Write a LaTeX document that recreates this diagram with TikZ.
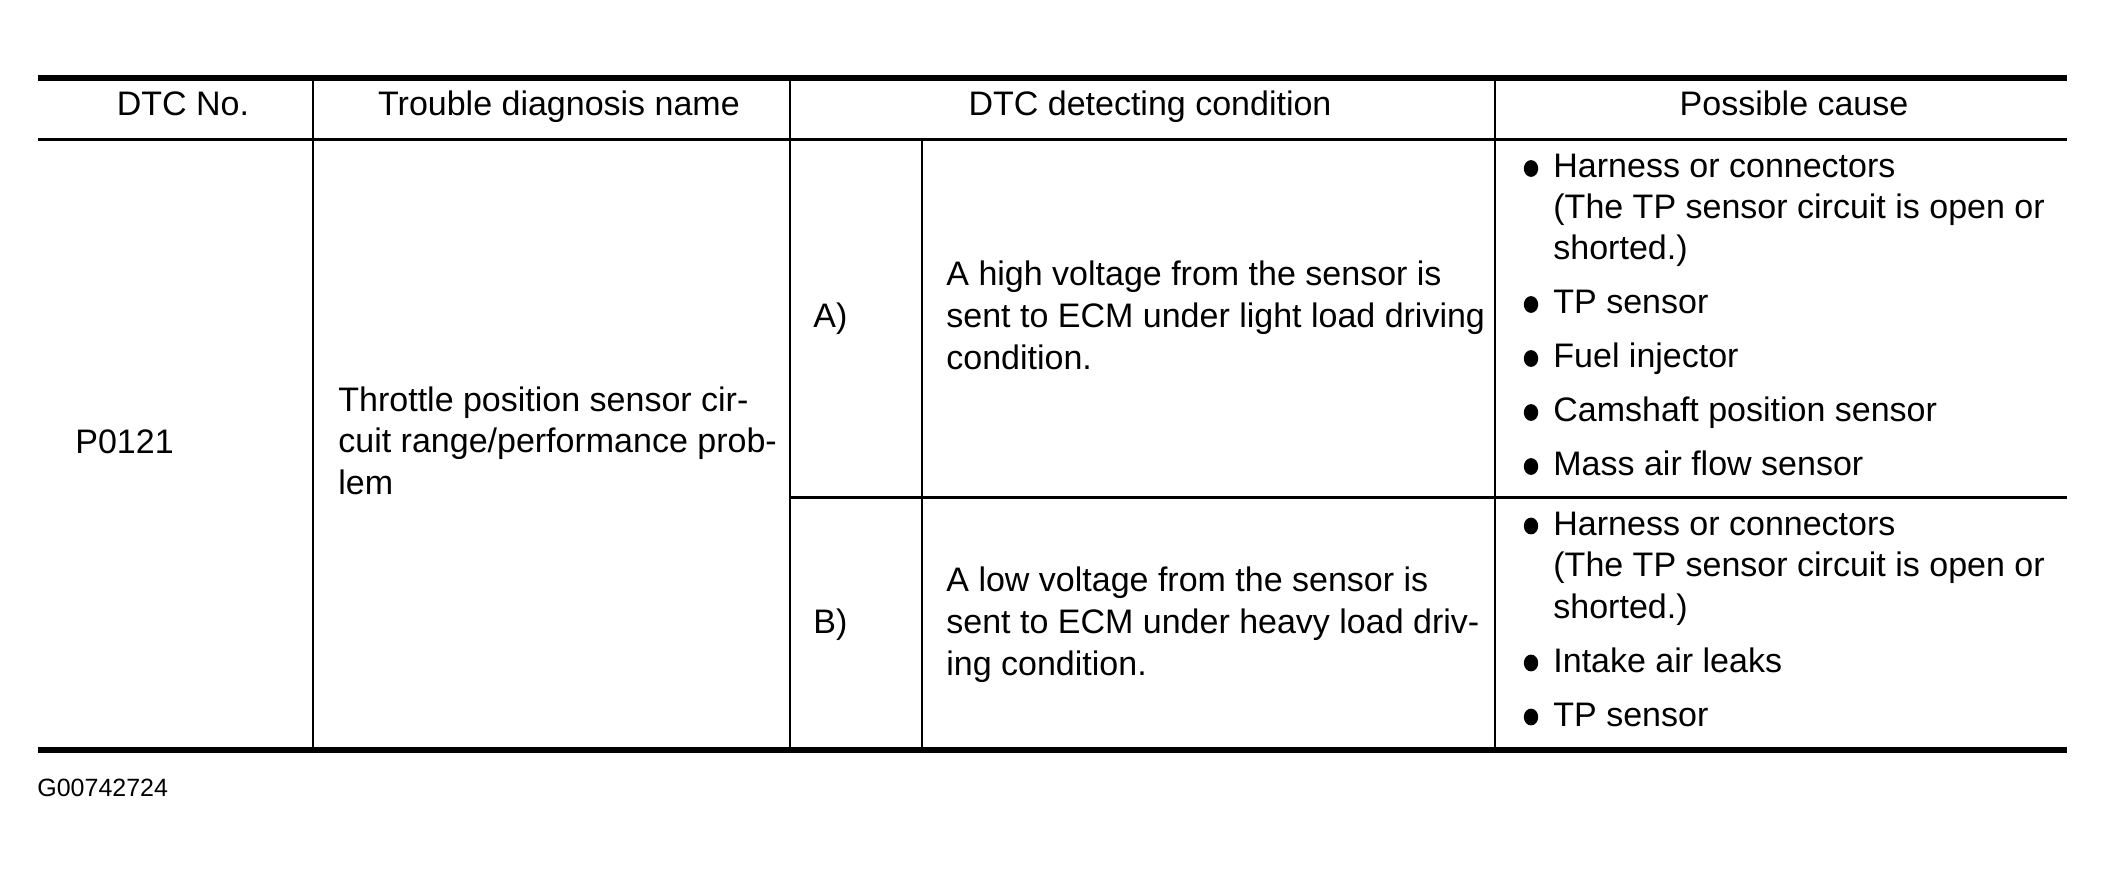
\documentclass[tikz,border=0pt]{standalone}
\usepackage{fontspec}
\setmainfont{Liberation Sans}
\begin{document}
\begin{tikzpicture}[x=0.5pt,y=-0.5pt,
  txt/.style={anchor=base west, inner sep=0pt, font=\fontsize{17pt}{20.9pt}\selectfont},
  hdr/.style={anchor=base, inner sep=0pt, font=\fontsize{17pt}{20.9pt}\selectfont},
  thick rule/.style={line width=3pt},
  mid rule/.style={line width=1.5pt},
  col rule/.style={line width=1pt},
  bul/.style={fill=black}]
\useasboundingbox (0,0) rectangle (2104,872);
% horizontal rules
\draw[thick rule] (38,78) -- (2067,78);
\draw[mid rule] (38,139.5) -- (2067,139.5);
\draw[mid rule] (790,497.5) -- (2067,497.5);
\draw[thick rule] (38,750) -- (2067,750);
% vertical rules
\draw[col rule] (313,78) -- (313,750);
\draw[col rule] (790,78) -- (790,750);
\draw[col rule] (922,139.5) -- (922,750);
\draw[col rule] (1495,78) -- (1495,750);
% header
\node[hdr] (h1) at (183,116) {DTC No.};
\node[hdr] (h2) at (559,116) {Trouble diagnosis name};
\node[hdr] (h3) at (1150,116) {DTC detecting condition};
\node[hdr] (h4) at (1794,116) {Possible cause};
% DTC no
\node[txt] (dtc) at (75,453) {P0121};
% trouble name
\node[txt] (tn1) at (338,411) {Throttle position sensor cir-};
\node[txt] (tn2) at (338,452.7) {cuit range/performance prob-};
\node[txt] (tn3) at (338,494.5) {lem};
% condition A
\node[txt] (la) at (813,327.3) {A)};
\node[txt] (ca1) at (946,285.5) {A high voltage from the sensor is};
\node[txt] (ca2) at (946,327.3) {sent to ECM under light load driving};
\node[txt] (ca3) at (946,369.1) {condition.};
% condition B
\node[txt] (lb) at (813,633.4) {B)};
\node[txt] (cb1) at (946,591.6) {A low voltage from the sensor is};
\node[txt] (cb2) at (946,633.4) {sent to ECM under heavy load driv-};
\node[txt] (cb3) at (946,675.3) {ing condition.};
% causes A
\node[txt] (pa1) at (1553,177.5) {Harness or connectors};
\node[txt] (pa2) at (1553,218.5) {(The TP sensor circuit is open or};
\node[txt] (pa3) at (1553,259.5) {shorted.)};
\node[txt] (pa4) at (1553,313.5) {TP sensor};
\node[txt] (pa5) at (1553,367.5) {Fuel injector};
\node[txt] (pa6) at (1553,421.5) {Camshaft position sensor};
\node[txt] (pa7) at (1553,475.5) {Mass air flow sensor};
\foreach \yy in {177.5,313.5,367.5,421.5,475.5}
  \fill[bul] (1531,\yy-9) ellipse [x radius=3.6pt, y radius=4.2pt];
% causes B
\node[txt] (pb1) at (1553,535) {Harness or connectors};
\node[txt] (pb2) at (1553,576.5) {(The TP sensor circuit is open or};
\node[txt] (pb3) at (1553,618) {shorted.)};
\node[txt] (pb4) at (1553,672) {Intake air leaks};
\node[txt] (pb5) at (1553,726) {TP sensor};
\foreach \yy in {535,672,726}
  \fill[bul] (1531,\yy-9) ellipse [x radius=3.6pt, y radius=4.2pt];
% figure id
\node[anchor=base west, inner sep=0pt, font=\fontsize{12.5pt}{15pt}\selectfont] (gid) at (37,796) {G00742724};
\end{tikzpicture}
\end{document}
